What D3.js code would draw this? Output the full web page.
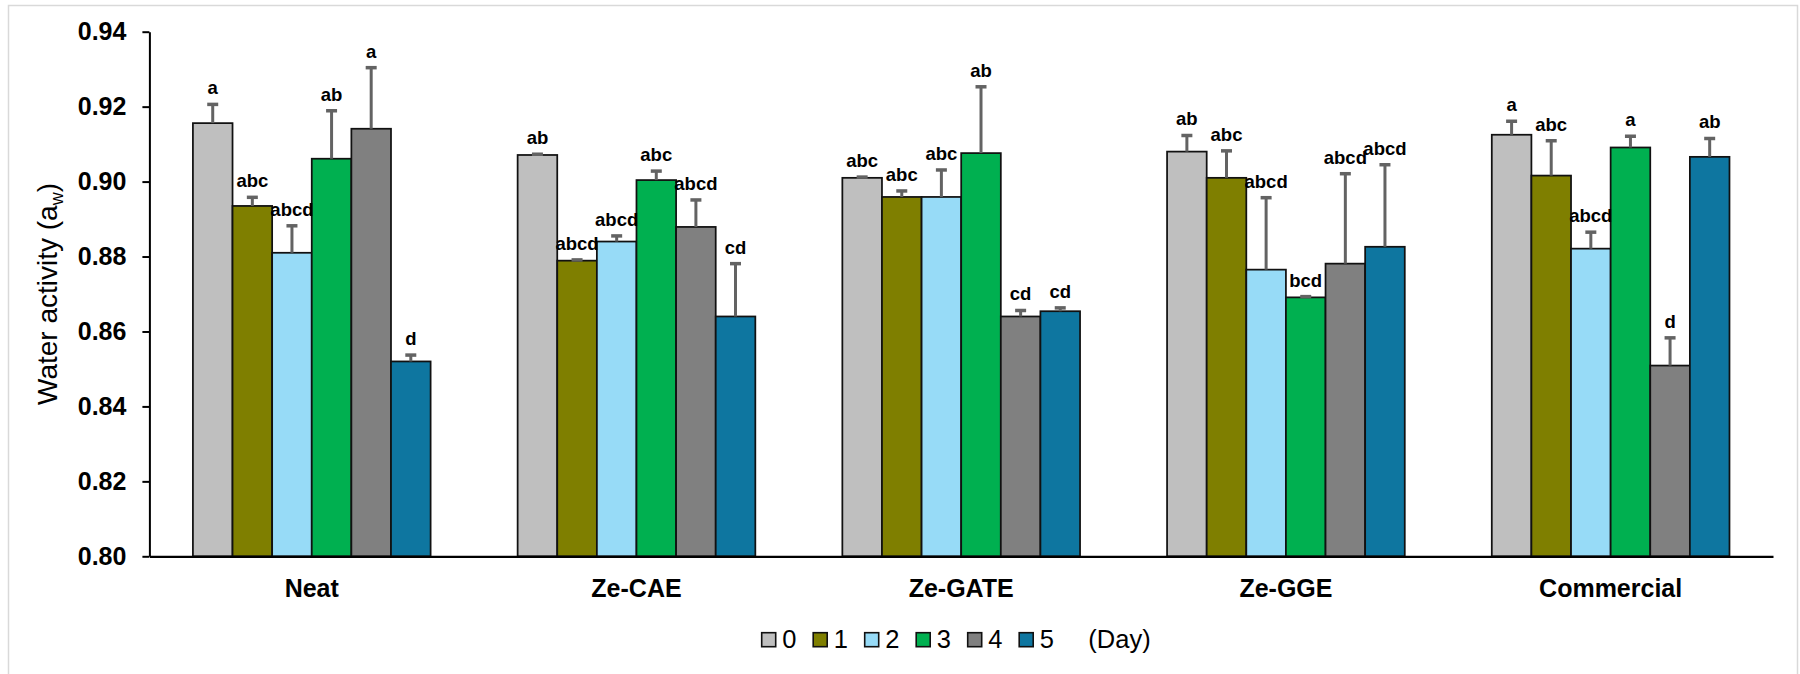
<!DOCTYPE html>
<html>
<head>
<meta charset="utf-8">
<script src="https://cdn.jsdelivr.net/npm/d3@7/dist/d3.min.js"></script>
<style>
  html, body { margin: 0; padding: 0; background: #fff; }
  svg { display: block; }
  text { font-family: "Liberation Sans", Arial, sans-serif; }
</style>
</head>
<body>
<svg id="chart" width="1800" height="674"></svg>
<script>
// Formulations on the category axis
const categories = ["Neat", "Ze-CAE", "Ze-GATE", "Ze-GGE", "Commercial"];
// Storage day of each series
const days = ["0", "1", "2", "3", "4", "5"];

// Mean water activity per storage day (one value per formulation)
const meanDay0 = [0.9156, 0.9071, 0.9010, 0.9080, 0.9125];
const meanDay1 = [0.8935, 0.8789, 0.8959, 0.9010, 0.9016];
const meanDay2 = [0.8810, 0.8840, 0.8959, 0.8765, 0.8821];
const meanDay3 = [0.9061, 0.9004, 0.9076, 0.8691, 0.9091];
const meanDay4 = [0.9141, 0.8879, 0.8640, 0.8781, 0.8509];
const meanDay5 = [0.8520, 0.8640, 0.8654, 0.8826, 0.9066];

// Standard deviations (upper error bars)
const sdDay0 = [0.0050, 0.0002, 0.0002, 0.0043, 0.0036];
const sdDay1 = [0.0023, 0.0002, 0.0016, 0.0072, 0.0093];
const sdDay2 = [0.0072, 0.0015, 0.0072, 0.0192, 0.0044];
const sdDay3 = [0.0128, 0.0024, 0.0177, 0.0002, 0.0030];
const sdDay4 = [0.0163, 0.0072, 0.0016, 0.0240, 0.0074];
const sdDay5 = [0.0017, 0.0141, 0.0009, 0.0219, 0.0049];

// Significance letters
const lettersDay0 = ["a", "ab", "abc", "ab", "a"];
const lettersDay1 = ["abc", "abcd", "abc", "abc", "abc"];
const lettersDay2 = ["abcd", "abcd", "abc", "abcd", "abcd"];
const lettersDay3 = ["ab", "abc", "ab", "bcd", "a"];
const lettersDay4 = ["a", "abcd", "cd", "abcd", "d"];
const lettersDay5 = ["d", "cd", "cd", "abcd", "ab"];

// Y axis tick values
const yTicks = [0.80, 0.82, 0.84, 0.86, 0.88, 0.90, 0.92, 0.94];

const dayColors = ["#BFBFBF", "#7F7F00", "#97DBF7", "#00B050", "#808080", "#0E76A0"];

const means = [meanDay0, meanDay1, meanDay2, meanDay3, meanDay4, meanDay5];
const sds = [sdDay0, sdDay1, sdDay2, sdDay3, sdDay4, sdDay5];
const letters = [lettersDay0, lettersDay1, lettersDay2, lettersDay3, lettersDay4, lettersDay5];

const rows = [];
days.forEach((d, i) => {
  categories.forEach((c, j) => {
    rows.push({ cat: c, day: d, idx: i, mean: means[i][j], sd: sds[i][j], letter: letters[i][j] });
  });
});

const svg = d3.select("#chart");

// outer chart frame
svg.append("rect")
  .attr("x", 8.5).attr("y", 5.5)
  .attr("width", 1789).attr("height", 690)
  .attr("fill", "#fff")
  .attr("stroke", "#d9d9d9").attr("stroke-width", 1.5);

const plotLeft = 149.4, plotRight = 1773, plotTop = 31.7, plotBottom = 556.3;

const x0 = d3.scaleBand()
  .domain(categories)
  .range([plotLeft, plotRight])
  .paddingInner(0.268)
  .paddingOuter(0.134);

const x1 = d3.scaleBand()
  .domain(days)
  .range([0, x0.bandwidth()])
  .padding(0);

const y = d3.scaleLinear()
  .domain([0.80, 0.94])
  .range([plotBottom, plotTop]);

const color = d3.scaleOrdinal().domain(days).range(dayColors);

// bars
const barG = svg.append("g");
barG.selectAll("rect")
  .data(rows)
  .join("rect")
  .attr("x", d => x0(d.cat) + x1(d.day))
  .attr("y", d => y(d.mean))
  .attr("width", x1.bandwidth())
  .attr("height", d => y(0.80) - y(d.mean))
  .attr("fill", d => color(d.day))
  .attr("stroke", "#111")
  .attr("stroke-width", 1.75);

// upper error bars
const errG = svg.append("g").attr("stroke", "#636363");
const cx = d => x0(d.cat) + x1(d.day) + x1.bandwidth() / 2;
errG.selectAll("line.stem")
  .data(rows)
  .join("line")
  .attr("class", "stem")
  .attr("x1", cx).attr("x2", cx)
  .attr("y1", d => y(d.mean))
  .attr("y2", d => y(d.mean + d.sd))
  .attr("stroke-width", 3);
errG.selectAll("line.cap")
  .data(rows)
  .join("line")
  .attr("class", "cap")
  .attr("x1", d => cx(d) - 5.5).attr("x2", d => cx(d) + 5.5)
  .attr("y1", d => y(d.mean + d.sd))
  .attr("y2", d => y(d.mean + d.sd))
  .attr("stroke-width", 3.5);

// significance letters
svg.append("g").selectAll("text")
  .data(rows)
  .join("text")
  .attr("x", cx)
  .attr("y", d => y(d.mean + d.sd) - 10)
  .attr("text-anchor", "middle")
  .attr("font-size", 18.5)
  .attr("font-weight", "bold")
  .attr("fill", "#000")
  .text(d => d.letter);

// y axis
const yAxis = svg.append("g")
  .attr("transform", `translate(${plotLeft},0)`)
  .call(d3.axisLeft(y).tickValues(yTicks).tickFormat(d3.format(".2f")).tickSize(7).tickSizeOuter(0).tickPadding(16));
yAxis.select(".domain").attr("stroke", "#000").attr("stroke-width", 2);
yAxis.selectAll(".tick line").attr("stroke", "#000").attr("stroke-width", 2);
yAxis.selectAll(".tick text")
  .attr("font-family", "Liberation Sans, Arial, sans-serif")
  .attr("font-size", 25).attr("font-weight", "bold").attr("fill", "#000");

// x axis
const xAxis = svg.append("g")
  .attr("transform", `translate(0,${plotBottom})`)
  .call(d3.axisBottom(x0).tickSize(0).tickSizeOuter(0).tickPadding(22.5));
xAxis.select(".domain").attr("stroke", "#000").attr("stroke-width", 2.2);
xAxis.selectAll(".tick text")
  .attr("font-family", "Liberation Sans, Arial, sans-serif")
  .attr("font-size", 25).attr("font-weight", "bold").attr("fill", "#000");

// y axis title
const yTitle = svg.append("text")
  .attr("transform", `translate(57,${(plotTop + plotBottom) / 2}) rotate(-90)`)
  .attr("text-anchor", "middle")
  .attr("font-size", 28)
  .attr("fill", "#000");
yTitle.append("tspan").text("Water activity (a");
yTitle.append("tspan").attr("font-size", 18).attr("dy", 6).text("w");
yTitle.append("tspan").attr("dy", -6).text(")");

// legend
const legend = svg.append("g");
const legendX0 = 761.7, legendStep = 51.5, legendY = 632.7;
const items = legend.selectAll("g")
  .data(days)
  .join("g")
  .attr("transform", (d, i) => `translate(${legendX0 + i * legendStep},${legendY})`);
items.append("rect")
  .attr("width", 14).attr("height", 14)
  .attr("fill", d => color(d))
  .attr("stroke", "#111").attr("stroke-width", 1.6);
items.append("text")
  .attr("x", 20.5).attr("y", 15)
  .attr("font-size", 25.5)
  .attr("fill", "#000")
  .text(d => d);
legend.append("text")
  .attr("x", 1088.3).attr("y", legendY + 15)
  .attr("font-size", 25.5)
  .attr("fill", "#000")
  .text("(Day)");
</script>
</body>
</html>
